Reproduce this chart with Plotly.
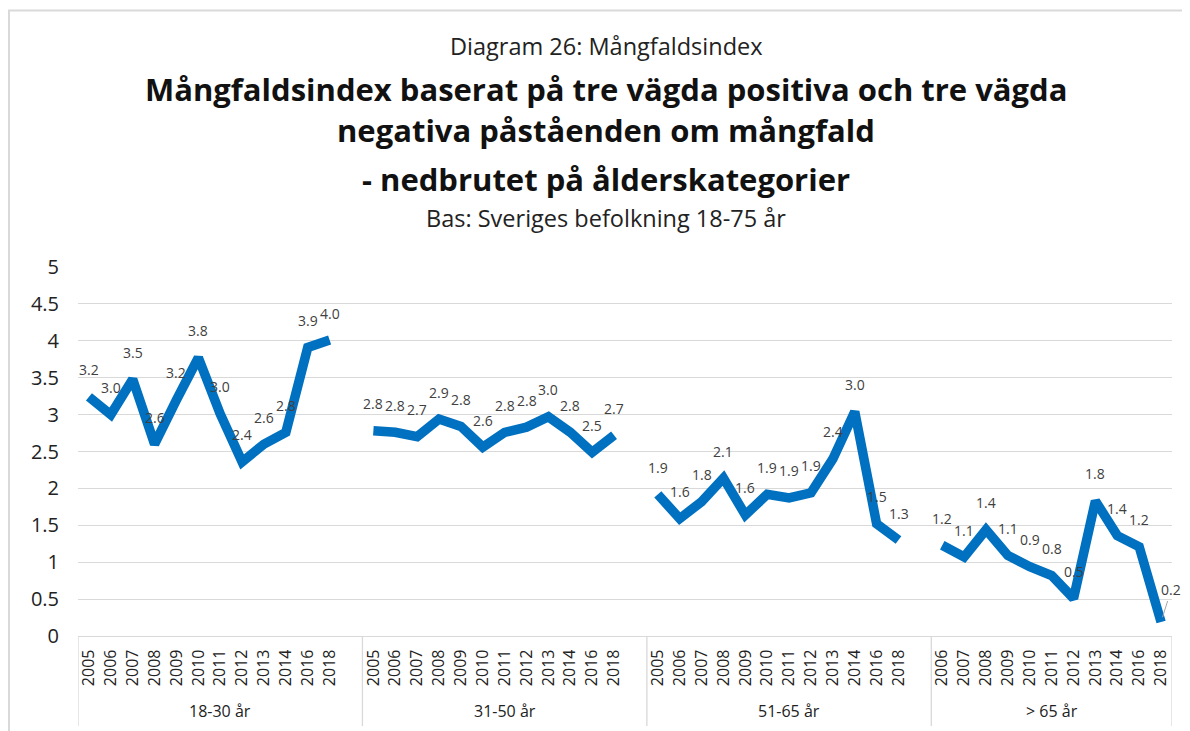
import plotly.graph_objects as go

# ---- data ----
groups = ["18-30 år", "31-50 år", "51-65 år", "> 65 år"]
years_g1 = ["2005", "2006", "2007", "2008", "2009", "2010", "2011", "2012", "2013", "2014", "2016", "2018"]
years_g2 = ["2005", "2006", "2007", "2008", "2009", "2010", "2011", "2012", "2013", "2014", "2016", "2018"]
years_g3 = ["2005", "2006", "2007", "2008", "2009", "2010", "2011", "2012", "2013", "2014", "2016", "2018"]
years_g4 = ["2006", "2007", "2008", "2009", "2010", "2011", "2012", "2013", "2014", "2016", "2018"]
vals_g1 = [3.24, 3.00, 3.48, 2.60, 3.20, 3.77, 3.01, 2.36, 2.60, 2.76, 3.91, 4.01]
vals_g2 = [2.78, 2.76, 2.70, 2.94, 2.84, 2.56, 2.76, 2.83, 2.97, 2.76, 2.49, 2.72]
vals_g3 = [1.92, 1.59, 1.82, 2.14, 1.64, 1.92, 1.87, 1.94, 2.40, 3.04, 1.52, 1.30]
vals_g4 = [1.23, 1.07, 1.44, 1.09, 0.94, 0.82, 0.51, 1.83, 1.36, 1.21, 0.19]

years_all = [years_g1, years_g2, years_g3, years_g4]
vals_all = [vals_g1, vals_g2, vals_g3, vals_g4]

# page has an 8px body margin: figure occupies (8,8)..(1190,731)
OFF = 8
W, H = 1190 - OFF, 731 - OFF
ML, MR, MT, MB = 78 - OFF, 18, 267 - OFF, 95
PW, PH = W - ML - MR, H - MT - MB


def pxx(px):
    # px in reference-page pixels
    return (px - OFF - ML) / PW


def pxy(py):
    return (H - MB - (py - OFF)) / PH


FONT = "Open Sans"
BLUE = "#0070C0"
GRID = "#d9d9d9"

# build slot positions (one empty slot after each group except the last)
xs, ys, tickvals, ticktext = [], [], [], []
group_bounds = []
pos = 0
for gi, (yrs, vals) in enumerate(zip(years_all, vals_all)):
    start = pos
    for yr, v in zip(yrs, vals):
        xs.append(pos)
        ys.append(v)
        tickvals.append(pos)
        ticktext.append(yr)
        pos += 1
    if gi < len(groups) - 1:
        xs.append(None)
        ys.append(None)
        pos += 1
    group_bounds.append((start - 0.5, pos - 0.5))
total_slots = pos

fig = go.Figure()
fig.add_trace(go.Scatter(
    x=xs, y=ys, mode="lines",
    line=dict(color=BLUE, width=9.5),
    connectgaps=False, hoverinfo="skip", showlegend=False,
))

annotations = []
n_pts = sum(len(v) for v in vals_all)
k = 0
for x, y in zip(xs, ys):
    if y is None:
        continue
    k += 1
    label = f"{y:.1f}"
    if k == n_pts:
        annotations.append(dict(
            x=x, y=y, xref="x", yref="y", text=label, showarrow=True,
            arrowhead=0, arrowwidth=1, arrowcolor="#a6a6a6", ax=10, ay=-32,
            standoff=5, font=dict(family=FONT, size=14, color="#404040"),
        ))
    else:
        annotations.append(dict(
            x=x, y=y, xref="x", yref="y", text=label, showarrow=False,
            yshift=27, font=dict(family=FONT, size=14, color="#404040"),
        ))

# group labels
for g, (a, b) in zip(groups, group_bounds):
    annotations.append(dict(
        x=(a + b) / 2, y=pxy(711), xref="x", yref="paper", text=g,
        showarrow=False, yanchor="middle",
        font=dict(family=FONT, size=16, color="#222222"),
    ))

# titles
cx = pxx(606)
annotations += [
    dict(x=cx, y=pxy(46), xref="paper", yref="paper", text="Diagram 26: Mångfaldsindex",
         showarrow=False, yanchor="middle", font=dict(family=FONT, size=23.5, color="#222222")),
    dict(x=cx, y=pxy(89), xref="paper", yref="paper",
         text="<b>Mångfaldsindex baserat på tre vägda positiva och tre vägda</b>",
         showarrow=False, yanchor="middle", font=dict(family=FONT, size=31, color="#111111")),
    dict(x=cx, y=pxy(130), xref="paper", yref="paper",
         text="<b>negativa påståenden om mångfald</b>",
         showarrow=False, yanchor="middle", font=dict(family=FONT, size=31, color="#111111")),
    dict(x=cx, y=pxy(179), xref="paper", yref="paper",
         text="<b>- nedbrutet på ålderskategorier</b>",
         showarrow=False, yanchor="middle", font=dict(family=FONT, size=31, color="#111111")),
    dict(x=cx, y=pxy(218), xref="paper", yref="paper", text="Bas: Sveriges befolkning 18-75 år",
         showarrow=False, yanchor="middle", font=dict(family=FONT, size=23.5, color="#222222")),
]

shapes = []
# category dividers
for bx in [-0.5] + [gb[1] for gb in group_bounds]:
    shapes.append(dict(type="line", xref="x", yref="paper", x0=bx, x1=bx,
                       y0=0, y1=pxy(726), line=dict(color=GRID, width=1.3)))
# chart border (left and top)
shapes.append(dict(type="line", xref="paper", yref="paper", x0=pxx(9), x1=pxx(9),
                   y0=pxy(10), y1=pxy(740), line=dict(color=GRID, width=2)))
shapes.append(dict(type="line", xref="paper", yref="paper", x0=pxx(8), x1=pxx(1200),
                   y0=pxy(10.5), y1=pxy(10.5), line=dict(color=GRID, width=2)))

fig.update_layout(
    width=W, height=H,
    margin=dict(l=ML, r=MR, t=MT, b=MB, autoexpand=False),
    paper_bgcolor="white", plot_bgcolor="white",
    showlegend=False,
    annotations=annotations,
    shapes=shapes,
    xaxis=dict(
        range=[-0.5, total_slots - 0.5], tickmode="array", tickvals=tickvals, ticktext=ticktext,
        tickangle=-90, tickfont=dict(family=FONT, size=16, color="#222222"),
        showgrid=False, zeroline=False, showline=True, linecolor=GRID, linewidth=1.3,
        ticks="", ticklabelstandoff=6,
    ),
    yaxis=dict(
        range=[0, 5], dtick=0.5, tick0=0, tickformat="~g",
        tickfont=dict(family=FONT, size=20, color="#222222"),
        showgrid=True, gridcolor=GRID, gridwidth=1.3, zeroline=False, showline=False,
        ticks="", ticklabelstandoff=18,
    ),
)

fig.write_html("out.html")
